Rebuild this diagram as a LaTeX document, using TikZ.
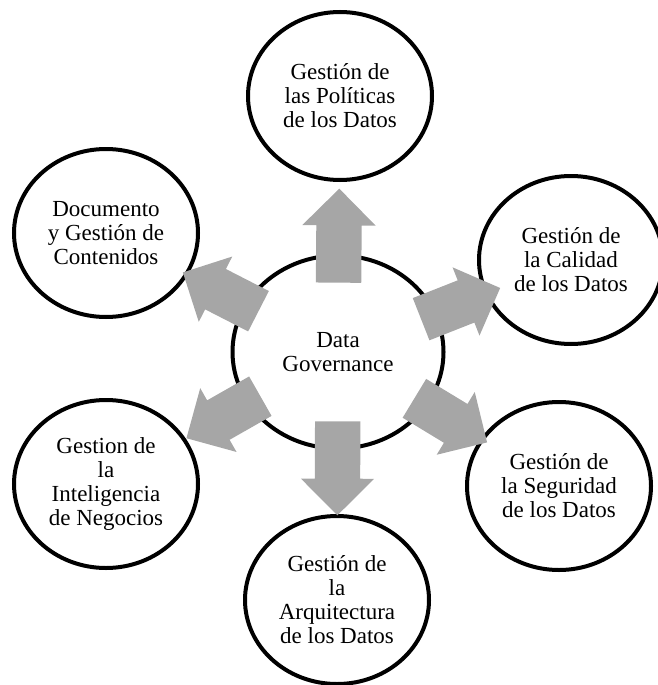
\documentclass[tikz,border=0pt]{standalone}
\usepackage{fontspec}
\setmainfont{Liberation Serif}
\usetikzlibrary{calc}
\usetikzlibrary{shapes.geometric,shapes.arrows}

\definecolor{arrowgray}{HTML}{A6A6A6}

\tikzset{
	topic/.style={ellipse, draw, line width=4pt, minimum width=184pt, minimum height=168pt,
		inner sep=0pt, align=center, font=\fontsize{23}{24}\selectfont},
	hub/.style={ellipse, draw, line width=4pt, minimum width=211pt, minimum height=193pt,
		inner sep=0pt, align=center, font=\fontsize{23}{24}\selectfont},
	fat/.style={single arrow, fill=arrowgray, draw=none, inner xsep=0pt, inner ysep=22.5pt,
		single arrow head extend=14pt, sloped, allow upside down}
}

\begin{document}
\begin{tikzpicture}[x=1pt, y=-1pt]
	\useasboundingbox (0,0) rectangle (657,685);

	\node[hub] (gov) at (338,352) {Data\\Governance};

	\node[topic] (pol) at (340,96) {Gestión de\\las Políticas\\de los Datos};
	\node[topic] (cal) at (571,260) {Gestión de\\la Calidad\\de los Datos};
	\node[topic] (seg) at (559,486) {Gestión de\\la Seguridad\\de los Datos};
	\node[topic] (arq) at (337,600) {Gestión de\\la\\Arquitectura\\de los Datos};
	\node[topic] (bi) at (106,484) {Gestion de\\la\\Inteligencia\\de Negocios};
	\node[topic] (doc) at (106,233) {Documento\\y Gestión de\\Contenidos};

	% flechas desde el centro
	\path ($(gov)!58pt!(pol)$) -- node[fat, minimum height=94pt] {} ($(gov)!152pt!(pol)$);
	\path ($(gov)!58pt!(arq)$) -- node[fat, minimum height=94pt] {} ($(gov)!152pt!(arq)$);
	\path ($(gov)!78pt!(cal)$) -- node[fat, minimum height=85pt] {} ($(gov)!163pt!(cal)$);
	\path ($(gov)!78pt!(seg)$) -- node[fat, minimum height=85pt] {} ($(gov)!163pt!(seg)$);
	\path ($(gov)!78pt!(bi)$) -- node[fat, minimum height=85pt] {} ($(gov)!163pt!(bi)$);
	\path ($(gov)!78pt!(doc)$) -- node[fat, minimum height=85pt] {} ($(gov)!163pt!(doc)$);
\end{tikzpicture}
\end{document}
